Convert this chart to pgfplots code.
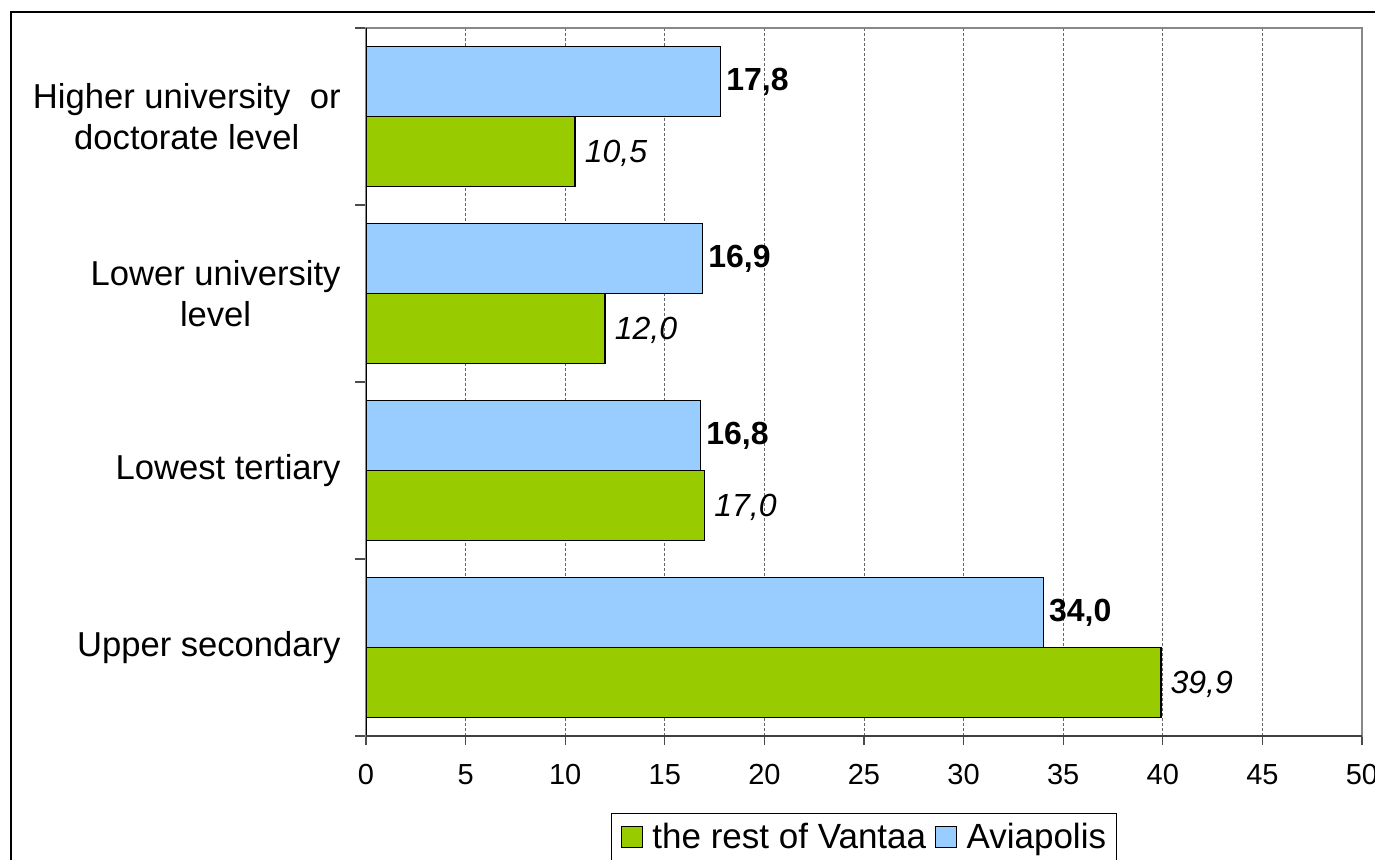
\documentclass[border=0pt]{standalone}
\usepackage{pgfplots}
\pgfplotsset{compat=1.18}
\usepackage{fontspec}
\setmainfont{Liberation Sans}
\definecolor{avia}{HTML}{99CCFF}
\definecolor{rest}{HTML}{99CC00}
\definecolor{framegray}{HTML}{888888}
\begin{document}
\begin{tikzpicture}
\begin{axis}[
  at={(183pt,61.5pt)}, anchor=south west,
  scale only axis, width=498pt, height=354pt,
  xbar, bar width=35pt,
  xmin=0, xmax=50, ymin=-0.5, ymax=3.5,
  xtick={0,5,...,50},
  ytick={0,1,2,3},
  yticklabels={{Upper secondary},{Lowest tertiary},{Lower university\\level},{Higher university~ or\\doctorate level}},
  minor ytick={-0.5,0.5,1.5,2.5,3.5},
  xtick pos=bottom, ytick pos=left,
  tick align=outside,
  major tick length=4.5pt,
  minor tick length=5.5pt,
  major y tick style={draw=none},
  minor y tick style={draw=black!70, line width=0.6pt},
  major x tick style={draw=black!70, line width=0.6pt},
  xmajorgrids,
  grid style={draw=black!60, line width=0.5pt, dash pattern=on 1.5pt off 1pt},
  axis line style={draw=framegray, line width=1pt},
  /pgf/number format/assume math mode=true,
  xticklabel style={font=\fontsize{14.5}{16}\selectfont, yshift=-6pt},
  yticklabel style={font=\fontsize{17.3}{20.5}\selectfont, align=center, inner sep=0pt, xshift=-8pt},
  legend columns=2,
  legend style={at={(0.5,-0.1088)}, anchor=north, draw=black, line width=0.5pt,
    font=\fontsize{17.5}{20}\selectfont, inner xsep=3pt, inner ysep=3pt,
    /tikz/every even column/.append style={column sep=1pt}},
]
\addplot[fill=rest, draw=black, line width=0.75pt, bar shift=-17.5pt,
  legend image code/.code={\draw[fill=rest,draw=black,line width=0.6pt] (0pt,-5pt) rectangle (10.5pt,5.5pt); \path (-1.5pt,0pt) (13pt,0pt);},
  nodes near coords={\pgfmathprintnumber[fixed,fixed zerofill,precision=1,use comma]{\pgfplotspointmeta}},
  every node near coord/.append style={font=\fontsize{16}{18}\selectfont\itshape, anchor=west, inner sep=4.5pt, text depth=0pt, black}]
  coordinates {(39.9,0) (17.0,1) (12.0,2) (10.5,3)};
\addlegendentry{the rest of Vantaa}
\addplot[fill=avia, draw=black, line width=0.75pt, bar shift=17.5pt,
  legend image code/.code={\draw[fill=avia,draw=black,line width=0.6pt] (0pt,-5pt) rectangle (10.5pt,5.5pt); \path (-1.5pt,0pt) (13pt,0pt);},
  nodes near coords={\pgfmathprintnumber[fixed,fixed zerofill,precision=1,use comma]{\pgfplotspointmeta}},
  every node near coord/.append style={font=\fontsize{16}{18}\selectfont\bfseries, anchor=west, inner sep=2.5pt, text depth=0pt, black, yshift=1pt}]
  coordinates {(34.0,0) (16.8,1) (16.9,2) (17.8,3)};
\addlegendentry{Aviapolis}
\draw[black, line width=0.75pt] (rel axis cs:0,0) -- (rel axis cs:0,1);
\draw[black!75, line width=0.9pt] (rel axis cs:0,0) -- (rel axis cs:1,0);
\end{axis}
\draw[black, line width=0.75pt] (5.5pt,-20pt) -- (5.5pt,423.5pt) -- (720pt,423.5pt);
\pgfresetboundingbox
\path[use as bounding box] (0,0) rectangle (687.5pt,429.5pt);
\end{tikzpicture}
\end{document}
